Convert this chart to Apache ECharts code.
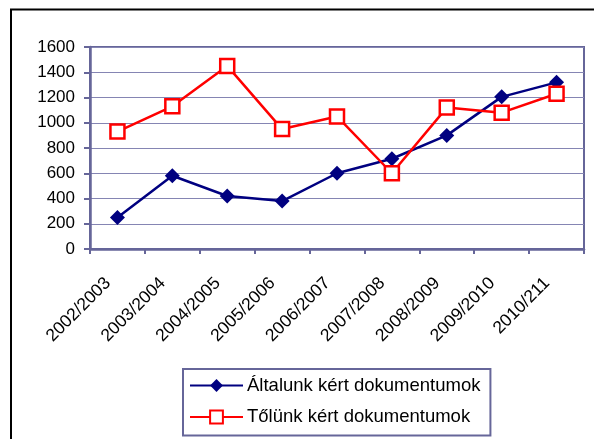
<!DOCTYPE html>
<html><head><meta charset="utf-8">
<script src="https://cdn.jsdelivr.net/npm/echarts@6/dist/echarts.min.js"></script>
<style>html,body{margin:0;padding:0;background:#fff}#c{width:594px;height:439px}</style>
</head><body><div id="c"></div>
<script>
const categories = ['2002/2003','2003/2004','2004/2005','2005/2006','2006/2007','2007/2008','2008/2009','2009/2010','2010/211'];
const altalunk = [250, 580, 420, 380, 600, 715, 900, 1205, 1320];
const tolunk = [930, 1130, 1450, 950, 1050, 600, 1120, 1080, 1230];
const yTicks = [0, 200, 400, 600, 800, 1000, 1200, 1400, 1600];
const seriesNames = ['Általunk kért dokumentumok', 'Tőlünk kért dokumentumok'];

const axisColor = '#666699';
const font = 'Liberation Sans, Arial, sans-serif';
const chart = echarts.init(document.getElementById('c'), null, {renderer: 'canvas'});
chart.setOption({
  animation: false,
  backgroundColor: '#fff',
  graphic: [{
    type: 'rect', shape: {x: 11, y: 9.5, width: 800, height: 800},
    style: {fill: 'none', stroke: '#000', lineWidth: 2}, silent: true, z: -1
  }],
  grid: {left: 90, right: 10, top: 47, bottom: 190, show: true, borderColor: axisColor, borderWidth: 2, backgroundColor: 'transparent'},
  legend: {
    left: 183, top: 369, orient: 'vertical',
    padding: [7, 10, 9, 6],
    borderColor: axisColor, borderWidth: 2,
    itemWidth: 53, itemHeight: 16, itemGap: 12.5,
    textStyle: {fontFamily: font, fontSize: 18.5, color: '#000', lineHeight: 18, padding: [0, 0, 0, -1]},
    data: seriesNames
  },
  xAxis: {
    type: 'category', data: categories, boundaryGap: true,
    axisLine: {lineStyle: {color: axisColor, width: 2.5}},
    axisTick: {show: true, length: 5, lineStyle: {color: axisColor, width: 2}},
    axisLabel: {rotate: 45, interval: 0, margin: 41, fontFamily: font, fontSize: 17.5, color: '#000',
      verticalAlign: 'bottom', lineHeight: 17, padding: [0, 0, 5, 0]},
    splitLine: {show: false}
  },
  yAxis: {
    type: 'value', min: yTicks[0], max: yTicks[yTicks.length - 1], interval: 200,
    axisLine: {show: true, lineStyle: {color: axisColor, width: 2.5}},
    axisTick: {show: true, length: 6, lineStyle: {color: axisColor, width: 2}},
    axisLabel: {margin: 15, fontFamily: font, fontSize: 17, color: '#000', formatter: function (v) { return String(v); }},
    splitLine: {show: true, lineStyle: {color: '#8585b3', width: 1.2}}
  },
  series: [
    {
      name: seriesNames[0], type: 'line', data: altalunk,
      symbol: 'diamond', symbolSize: 15, showAllSymbol: true,
      lineStyle: {color: '#000080', width: 2.5},
      itemStyle: {color: '#000080'}, z: 3
    },
    {
      name: seriesNames[1], type: 'line', data: tolunk,
      symbol: 'rect', symbolSize: 14, showAllSymbol: true,
      lineStyle: {color: '#ff0000', width: 2.5},
      itemStyle: {color: '#ffffff', borderColor: '#ff0000', borderWidth: 2.5}, z: 4
    }
  ]
});
</script></body></html>
